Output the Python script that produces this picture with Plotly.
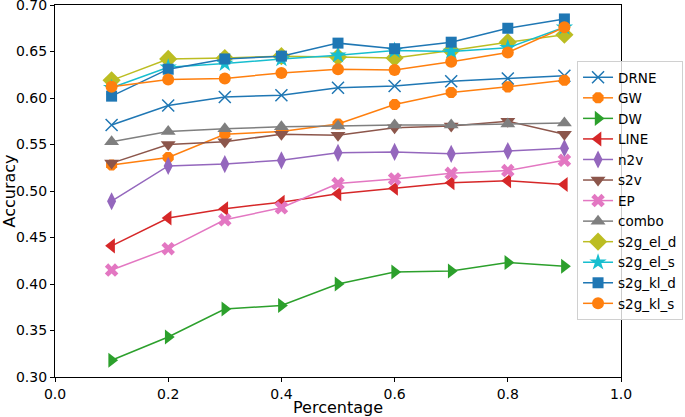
import plotly.graph_objects as go

percent = [0.1, 0.2, 0.3, 0.4, 0.5, 0.6, 0.7, 0.8, 0.9]

drne     = [0.571, 0.592, 0.601, 0.603, 0.611, 0.613, 0.618, 0.621, 0.624]
gw       = [0.528, 0.536, 0.561, 0.564, 0.572, 0.593, 0.606, 0.612, 0.619]
dw       = [0.318, 0.343, 0.373, 0.377, 0.400, 0.413, 0.414, 0.423, 0.419]
line_    = [0.441, 0.471, 0.481, 0.488, 0.497, 0.503, 0.509, 0.511, 0.507]
n2v      = [0.489, 0.527, 0.529, 0.533, 0.541, 0.542, 0.540, 0.543, 0.546]
s2v      = [0.530, 0.550, 0.553, 0.561, 0.560, 0.568, 0.570, 0.575, 0.561]
ep       = [0.415, 0.438, 0.469, 0.482, 0.508, 0.513, 0.519, 0.522, 0.533]
combo    = [0.553, 0.564, 0.567, 0.569, 0.570, 0.571, 0.571, 0.572, 0.573]
s2g_el_d = [0.619, 0.642, 0.643, 0.645, 0.644, 0.643, 0.651, 0.660, 0.668]
s2g_el_s = [0.611, 0.633, 0.637, 0.642, 0.646, 0.651, 0.650, 0.654, 0.676]
s2g_kl_d = [0.602, 0.631, 0.642, 0.645, 0.659, 0.653, 0.660, 0.675, 0.685]
s2g_kl_s = [0.612, 0.620, 0.621, 0.627, 0.631, 0.630, 0.639, 0.649, 0.676]

x_ticks = [0.0, 0.2, 0.4, 0.6, 0.8, 1.0]
y_ticks = [0.30, 0.35, 0.40, 0.45, 0.50, 0.55, 0.60, 0.65, 0.70]

series = [
    ("DRNE", drne, "#1f77b4", "x-thin-open", 12),
    ("GW", gw, "#ff7f0e", "octagon", 12),
    ("DW", dw, "#2ca02c", "triangle-right", 13),
    ("LINE", line_, "#d62728", "triangle-left", 13),
    ("n2v", n2v, "#9467bd", "diamond-tall", 13),
    ("s2v", s2v, "#8c564b", "triangle-down", 13),
    ("EP", ep, "#e377c2", "x", 12),
    ("combo", combo, "#7f7f7f", "triangle-up", 13),
    ("s2g_el_d", s2g_el_d, "#bcbd22", "diamond", 14),
    ("s2g_el_s", s2g_el_s, "#17becf", "star", 13),
    ("s2g_kl_d", s2g_kl_d, "#1f77b4", "square", 11),
    ("s2g_kl_s", s2g_kl_s, "#ff7f0e", "circle", 12),
]

fig = go.Figure()
for name, vals, color, sym, size in series:
    fig.add_trace(go.Scatter(
        x=percent, y=vals, name=name, mode="lines+markers",
        line=dict(color=color, width=1.5),
        marker=dict(symbol=sym, size=size, color=color,
                    line=dict(color=color, width=1.5 if sym == "x-thin-open" else 0)),
    ))

font = "DejaVu Sans, Arial, sans-serif"
axis_common = dict(
    showline=True, linecolor="black", linewidth=1.2, mirror=True,
    ticks="outside", ticklen=4, tickcolor="black", tickwidth=1,
    showgrid=False, zeroline=False, ticklabeloverflow="allow",
    tickfont=dict(family=font, size=14, color="black"),
)
fig.update_xaxes(range=[0, 1], tickvals=x_ticks, tickformat=".1f",
                 title=dict(text="Percentage", font=dict(family=font, size=16, color="black"), standoff=6),
                 **axis_common)
fig.update_yaxes(range=[0.30, 0.70], tickvals=y_ticks, tickformat=".2f",
                 title=dict(text="Accuracy", font=dict(family=font, size=16, color="black"), standoff=5),
                 **axis_common)

fig.update_layout(
    width=685, height=417,
    margin=dict(l=54.5, r=64, t=4.5, b=39.5, autoexpand=False),
    plot_bgcolor="white", paper_bgcolor="white",
    font=dict(family=font, color="black"),
    legend=dict(
        x=(577 - 54.5) / 566.5, y=(377.5 - 190.5) / 373,
        xanchor="left", yanchor="middle",
        bgcolor="rgba(255,255,255,0.8)", bordercolor="#d0d0d0", borderwidth=1,
        font=dict(family=font, size=13.5, color="black"),
        itemwidth=30, tracegroupgap=0,
    ),
)

fig.write_html("out.html", config={"displayModeBar": False},
               post_script="document.body.style.margin='0';")
